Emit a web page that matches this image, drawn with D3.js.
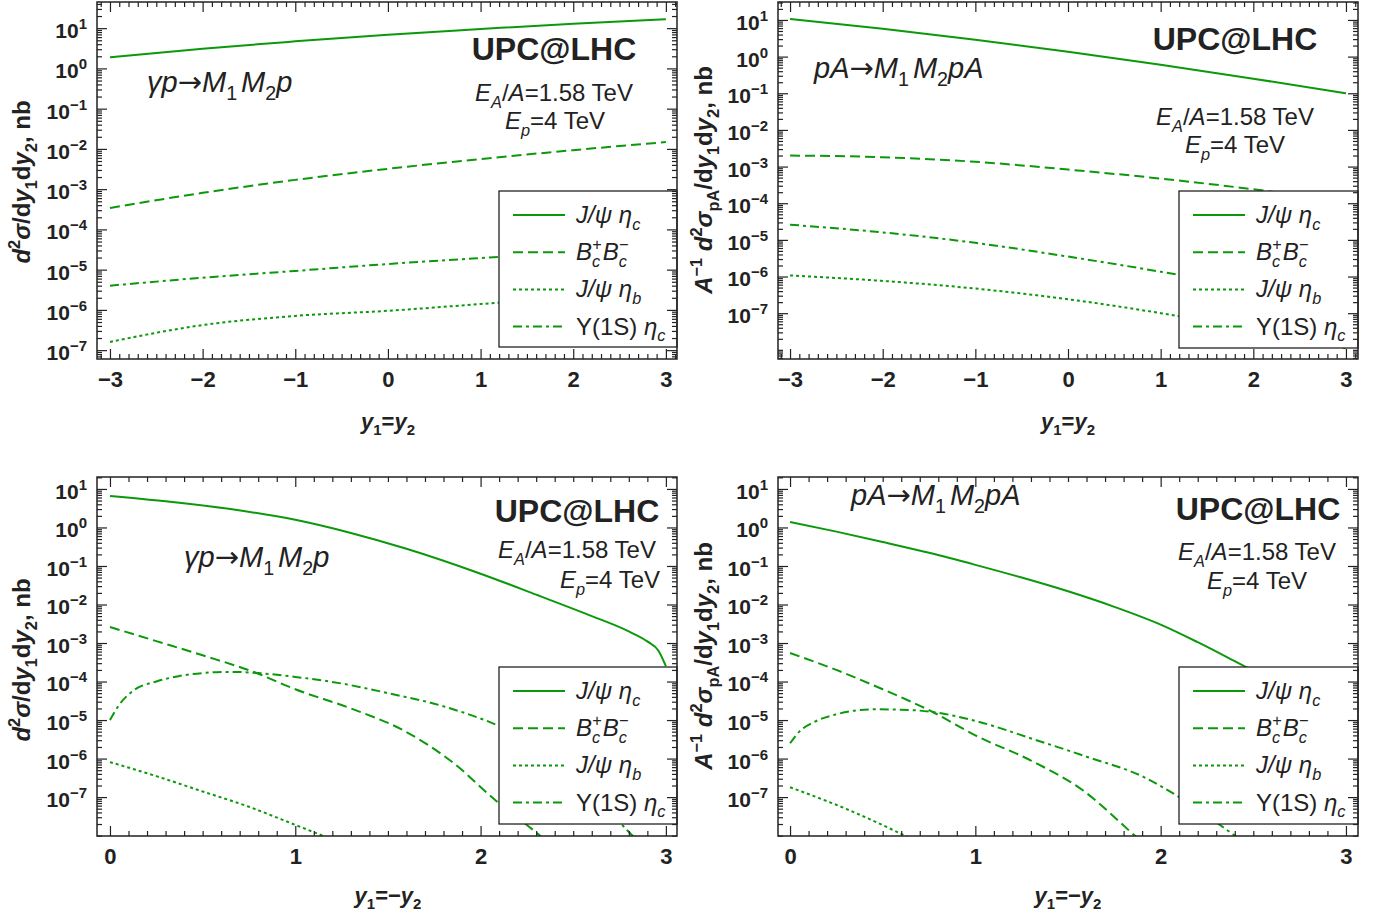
<!DOCTYPE html>
<html>
<head>
<meta charset="utf-8">
<script src="https://cdn.jsdelivr.net/npm/d3@7"></script>
<style>
  body { margin: 0; background: #fff; }
</style>
</head>
<body>
<script>
// ---- Data ----

// top row: y1 = y2
const yEq = [-3, -2, -1, 0, 1, 2, 3];
// gamma p -> M1 M2 p
const gpEq_JpsiEtac = [1.9, 3.1, 4.7, 6.9, 9.5, 12.9, 16.6];
const gpEq_BcBc     = [3.4e-4, 8.1e-4, 1.7e-3, 3.2e-3, 5.6e-3, 9.3e-3, 1.48e-2];
const gpEq_JpsiEtab = [1.6e-7, 4.2e-7, 7.1e-7, 9.5e-7, 1.4e-6, 2.1e-6, 3.0e-6];
const gpEq_UpsEtac  = [4.0e-6, 6.3e-6, 9.3e-6, 1.38e-5, 1.95e-5, 2.7e-5, 3.7e-5];
// p A -> M1 M2 p A
const pAEq_JpsiEtac = [10.7, 5.75, 2.88, 1.35, 0.60, 0.25, 0.10];
const pAEq_BcBc     = [2.0e-3, 1.8e-3, 1.35e-3, 8.3e-4, 4.7e-4, 2.4e-4, 1.1e-4];
const pAEq_JpsiEtab = [1.07e-6, 7.6e-7, 4.7e-7, 2.4e-7, 1.0e-7, 3.5e-8, 1.1e-8];
const pAEq_UpsEtac  = [2.6e-5, 1.6e-5, 8.3e-6, 3.5e-6, 1.35e-6, 4.7e-7, 1.4e-7];

// bottom row: y1 = -y2
const gpOpp_JpsiEtac_y = [0, 0.3, 0.65, 1.0, 1.3, 1.6, 2.0, 2.3, 2.6, 2.8, 2.9, 2.96, 3.0];
const gpOpp_JpsiEtac   = [6.6, 4.8, 3.0, 1.58, 0.72, 0.28, 0.063, 0.018, 5.0e-3, 2.0e-3, 1.1e-3, 6.3e-4, 2.5e-4];
const gpOpp_BcBc_y     = [0, 0.25, 0.5, 0.78, 1.0, 1.3, 1.58, 1.85, 2.08, 2.32, 2.5];
const gpOpp_BcBc       = [2.6e-3, 1.12e-3, 4.8e-4, 1.74e-4, 6.3e-5, 2.0e-5, 5.5e-6, 7.9e-7, 8.3e-8, 1.0e-8, 1.6e-9];
const gpOpp_JpsiEtab_y = [0, 0.25, 0.5, 0.75, 1.0, 1.2];
const gpOpp_JpsiEtab   = [8.1e-7, 3.5e-7, 1.4e-7, 5.6e-8, 1.9e-8, 7.9e-9];
const gpOpp_UpsEtac_y  = [0, 0.05, 0.13, 0.25, 0.37, 0.5, 0.65, 0.8, 1.0, 1.25, 1.5, 1.81, 2.18, 2.5, 2.79, 2.95];
const gpOpp_UpsEtac    = [1.0e-5, 2.5e-5, 6.0e-5, 1.0e-4, 1.38e-4, 1.66e-4, 1.78e-4, 1.66e-4, 1.32e-4, 8.9e-5, 5.0e-5, 2.2e-5, 4.6e-6, 5.0e-7, 1.4e-8, 2.5e-9];

const pAOpp_JpsiEtac_y = [0, 0.25, 0.5, 0.75, 1.0, 1.25, 1.5, 1.75, 2.0, 2.2, 2.42, 3.0];
const pAOpp_JpsiEtac   = [1.38, 0.78, 0.42, 0.22, 0.107, 0.05, 0.022, 8.7e-3, 3.0e-3, 1.05e-3, 3.0e-4, 1.0e-5];
const pAOpp_BcBc_y     = [0, 0.25, 0.5, 0.77, 1.0, 1.3, 1.58, 1.86, 2.0];
const pAOpp_BcBc       = [5.5e-4, 2.0e-4, 6.3e-5, 1.62e-5, 4.0e-6, 8.9e-7, 1.5e-7, 1.0e-8, 2.5e-9];
const pAOpp_JpsiEtab_y = [0, 0.3, 0.62, 0.75];
const pAOpp_JpsiEtab   = [1.8e-7, 5.0e-8, 1.0e-8, 5.0e-9];
const pAOpp_UpsEtac_y  = [0, 0.05, 0.13, 0.25, 0.45, 0.6, 0.77, 1.0, 1.33, 1.6, 1.91, 2.1, 2.4, 2.6];
const pAOpp_UpsEtac    = [2.5e-6, 5.0e-6, 8.9e-6, 1.41e-5, 1.9e-5, 1.86e-5, 1.62e-5, 9.5e-6, 3.0e-6, 1.12e-6, 3.3e-7, 1.0e-7, 1.0e-8, 2.0e-9];

const xTicksEq = [-3, -2, -1, 0, 1, 2, 3];
const xTicksOpp = [0, 1, 2, 3];
const yTickLabels = [1e-7, 1e-6, 1e-5, 1e-4, 1e-3, 1e-2, 1e-1, 1e0, 1e1];

// ---- Styles ----
const GREEN = "#0b990b";
const INK = "#222";
const FONT = '"Liberation Sans", Arial, Helvetica, sans-serif';
const lineStyles = [
  {dash: null},          // J/psi eta_c
  {dash: "10,5"},        // Bc+ Bc-
  {dash: "3,3"},         // J/psi eta_b
  {dash: "9,4,3,4"}      // Upsilon(1S) eta_c
];

// rich text: parts are [string, {i, sub, sup, dx, f}]
function rich(t, parts, size) {
  let shift = 0;
  t.style("white-space", "pre");
  parts.forEach(([s, o = {}]) => {
    const small = o.sub || o.sup;
    const target = o.sub ? size * 0.28 : o.sup ? -size * 0.42 : 0;
    const ts = t.append("tspan").text(s)
      .attr("dy", target - shift)
      .attr("font-size", small ? size * 0.68 : size)
      .attr("font-style", o.i ? "italic" : "normal");
    if (o.dx) ts.attr("dx", o.dx);
    if (o.f) ts.attr("font-family", o.f);
    shift = target;
  });
  return t;
}

const legendLabels = [
  [["J/ψ", {i: 1}], [" "], ["η", {i: 1}], ["c", {sub: 1, i: 1}]],
  [["B", {i: 1}], ["c", {sub: 1, i: 1}], ["+", {sup: 1, dx: -8}], ["B", {i: 1, dx: 1}], ["c", {sub: 1, i: 1}], ["−", {sup: 1, dx: -8}]],
  [["J/ψ", {i: 1}], [" "], ["η", {i: 1}], ["b", {sub: 1, i: 1}]],
  [["Y(1S) "], ["η", {i: 1}], ["c", {sub: 1, i: 1}]]
];

const ARROW_FONT = '"DejaVu Sans", sans-serif';
const gpProc = [["γp", {i: 1}], ["→", {f: ARROW_FONT}], ["M", {i: 1}], ["1", {sub: 1}], ["M", {i: 1, dx: 4}], ["2", {sub: 1}], ["p", {i: 1}]];
const pAProc = [["pA", {i: 1}], ["→", {f: ARROW_FONT}], ["M", {i: 1}], ["1", {sub: 1}], ["M", {i: 1, dx: 4}], ["2", {sub: 1}], ["pA", {i: 1}]];
const eaText = [["E", {i: 1}], ["A", {sub: 1, i: 1}], ["/"], ["A", {i: 1}], ["=1.58 TeV"]];
const epText = [["E", {i: 1}], ["p", {sub: 1, i: 1}], ["=4 TeV"]];
const yTitleGp = [["d", {i: 1}], ["2", {sup: 1}], ["σ", {i: 1}], ["/d"], ["y", {i: 1}], ["1", {sub: 1}], ["d"], ["y", {i: 1}], ["2", {sub: 1}], [", nb"]];
const yTitlePA = [["A", {i: 1}], ["−1", {sup: 1}], [" "], ["d", {i: 1}], ["2", {sup: 1}], ["σ", {i: 1}], ["pA", {sub: 1}], ["/d"], ["y", {i: 1}], ["1", {sub: 1}], ["d"], ["y", {i: 1}], ["2", {sub: 1}], [", nb"]];
const xTitleEq = [["y", {i: 1}], ["1", {sub: 1}], ["="], ["y", {i: 1}], ["2", {sub: 1}]];
const xTitleOpp = [["y", {i: 1}], ["1", {sub: 1}], ["=−"], ["y", {i: 1}], ["2", {sub: 1}]];

const panels = [
  {
    frame: [97, 2, 677, 359], xDom: [-3.14, 3.12], yDom: [10 ** -7.22, 10 ** 1.65], xTicks: xTicksEq,
    curves: [
      {x: yEq, v: gpEq_JpsiEtac}, {x: yEq, v: gpEq_BcBc}, {x: yEq, v: gpEq_JpsiEtab}, {x: yEq, v: gpEq_UpsEtac}
    ],
    legend: [499, 191, 677, 347],
    proc: {parts: gpProc, x: 147, y: 92},
    upc: [554, 60], ea: [554, 101], ep: [555, 129],
    yTitle: {parts: yTitleGp, x: 30, y: 182},
    xTitle: {parts: xTitleEq, x: 388, y: 429}
  },
  {
    frame: [778, 2, 1358, 359], xDom: [-3.13, 3.13], yDom: [10 ** -8.25, 10 ** 1.49], xTicks: xTicksEq,
    curves: [
      {x: yEq, v: pAEq_JpsiEtac}, {x: yEq, v: pAEq_BcBc}, {x: yEq, v: pAEq_JpsiEtab}, {x: yEq, v: pAEq_UpsEtac}
    ],
    legend: [1179, 191, 1358, 348],
    proc: {parts: pAProc, x: 814, y: 78},
    upc: [1235, 50], ea: [1235, 125], ep: [1235, 153],
    yTitle: {parts: yTitlePA, x: 712, y: 180},
    xTitle: {parts: xTitleEq, x: 1068, y: 429}
  },
  {
    frame: [97, 477, 677, 836], xDom: [-0.07, 3.06], yDom: [10 ** -8.01, 10 ** 1.31], xTicks: xTicksOpp,
    curves: [
      {x: gpOpp_JpsiEtac_y, v: gpOpp_JpsiEtac}, {x: gpOpp_BcBc_y, v: gpOpp_BcBc},
      {x: gpOpp_JpsiEtab_y, v: gpOpp_JpsiEtab}, {x: gpOpp_UpsEtac_y, v: gpOpp_UpsEtac}
    ],
    legend: [499, 667, 677, 824],
    proc: {parts: gpProc, x: 184, y: 567},
    upc: [577, 522], ea: [577, 558], ep: [610, 588],
    yTitle: {parts: yTitleGp, x: 30, y: 660},
    xTitle: {parts: xTitleOpp, x: 388, y: 903}
  },
  {
    frame: [778, 477, 1358, 836], xDom: [-0.065, 3.065], yDom: [10 ** -8.01, 10 ** 1.31], xTicks: xTicksOpp,
    curves: [
      {x: pAOpp_JpsiEtac_y, v: pAOpp_JpsiEtac}, {x: pAOpp_BcBc_y, v: pAOpp_BcBc},
      {x: pAOpp_JpsiEtab_y, v: pAOpp_JpsiEtab}, {x: pAOpp_UpsEtac_y, v: pAOpp_UpsEtac}
    ],
    legend: [1179, 667, 1358, 824],
    proc: {parts: pAProc, x: 851, y: 505},
    upc: [1258, 520], ea: [1257, 560], ep: [1257, 589],
    yTitle: {parts: yTitlePA, x: 712, y: 656},
    xTitle: {parts: xTitleOpp, x: 1068, y: 903}
  }
];

const svg = d3.select("body").append("svg")
  .attr("width", 1380).attr("height", 918)
  .attr("font-family", FONT)
  .style("display", "block");

function xMinors(dom) {
  return d3.range(Math.ceil(dom[0] * 10), Math.floor(dom[1] * 10) + 1)
    .map(k => k / 10)
    .filter(v => Math.abs(v - Math.round(v)) > 1e-6);
}
function yMajors(dom) {
  return yTickLabels.filter(v => v >= dom[0] && v <= dom[1]);
}
function yMinors(dom) {
  const out = [];
  for (let e = Math.floor(Math.log10(dom[0])); e <= Math.ceil(Math.log10(dom[1])); e++) {
    for (let m = 1; m <= 9; m++) {
      const v = m * Math.pow(10, e);
      if (m === 1 && yTickLabels.includes(v)) continue;
      if (v >= dom[0] && v <= dom[1]) out.push(v);
    }
  }
  return out;
}

panels.forEach((p, i) => {
  const [L, T, R, B] = p.frame;
  const x = d3.scaleLinear().domain(p.xDom).range([L, R]);
  const y = d3.scaleLog().domain(p.yDom).range([B, T]);

  // clipped curves
  svg.append("clipPath").attr("id", "clip" + i)
    .append("rect").attr("x", L).attr("y", T).attr("width", R - L).attr("height", B - T);
  const line = d3.line().x(d => x(d[0])).y(d => y(d[1])).curve(d3.curveMonotoneX);
  const gl = svg.append("g").attr("clip-path", `url(#clip${i})`);
  p.curves.forEach((c, j) => {
    gl.append("path")
      .datum(d3.zip(c.x, c.v))
      .attr("d", line)
      .attr("fill", "none")
      .attr("stroke", GREEN)
      .attr("stroke-width", 2)
      .attr("stroke-dasharray", lineStyles[j].dash);
  });

  // legend
  const [lx0, ly0, lx1, ly1] = p.legend;
  const lg = svg.append("g").attr("transform", `translate(${lx0},${ly0})`);
  lg.append("rect").attr("width", lx1 - lx0).attr("height", ly1 - ly0)
    .attr("fill", "#fff").attr("stroke", INK).attr("stroke-width", 1.3);
  legendLabels.forEach((parts, j) => {
    const yy = 24 + j * 37.2;
    lg.append("line").attr("x1", 14).attr("x2", 66).attr("y1", yy).attr("y2", yy)
      .attr("stroke", GREEN).attr("stroke-width", 2)
      .attr("stroke-dasharray", lineStyles[j].dash);
    rich(lg.append("text").attr("x", 77).attr("y", yy + 8).attr("font-size", 24).attr("fill", INK), parts, 24);
  });

  // frame
  svg.append("rect").attr("x", L).attr("y", T).attr("width", R - L).attr("height", B - T)
    .attr("fill", "none").attr("stroke", INK).attr("stroke-width", 1.5);

  // ticks on all four sides
  const ax = svg.append("g").attr("color", INK);
  function addAxis(axis, tr, vals, size, pad, fmt, fs) {
    const g = ax.append("g").attr("transform", tr)
      .call(axis.tickValues(vals).tickSize(-size).tickPadding(pad).tickFormat(fmt || (() => "")));
    g.select(".domain").remove();
    g.selectAll(".tick line").attr("stroke-width", 1.2);
    g.attr("font-family", FONT).attr("font-size", fs || 21).attr("font-weight", "bold").attr("fill", INK);
    return g;
  }
  const xfmt = d => d < 0 ? "−" + (-d) : String(d);
  addAxis(d3.axisBottom(x), `translate(0,${B})`, p.xTicks, 10, 12, xfmt, 22);
  addAxis(d3.axisBottom(x), `translate(0,${B})`, xMinors(p.xDom), 5, 0);
  addAxis(d3.axisTop(x), `translate(0,${T})`, p.xTicks, 10, 0);
  addAxis(d3.axisTop(x), `translate(0,${T})`, xMinors(p.xDom), 5, 0);

  const gy = addAxis(d3.axisLeft(y), `translate(${L},0)`, yMajors(p.yDom), 10, 10, d => "x");
  gy.selectAll(".tick text").each(function (d) {
    const e = Math.round(Math.log10(d));
    const t = d3.select(this).text(null).attr("dy", "0.45em");
    t.append("tspan").text("10");
    t.append("tspan").attr("dy", -9).attr("font-size", 15).text(e < 0 ? "−" + (-e) : String(e));
  });
  addAxis(d3.axisLeft(y), `translate(${L},0)`, yMinors(p.yDom), 5, 0);
  addAxis(d3.axisRight(y), `translate(${R},0)`, yMajors(p.yDom), 10, 0);
  addAxis(d3.axisRight(y), `translate(${R},0)`, yMinors(p.yDom), 5, 0);

  // annotations
  rich(svg.append("text").attr("x", p.proc.x).attr("y", p.proc.y).attr("font-size", 29).attr("fill", INK), p.proc.parts, 29);
  svg.append("text").attr("x", p.upc[0]).attr("y", p.upc[1]).attr("text-anchor", "middle")
    .attr("font-size", 32).attr("font-weight", "bold").attr("fill", INK).text("UPC@LHC");
  rich(svg.append("text").attr("x", p.ea[0]).attr("y", p.ea[1]).attr("text-anchor", "middle").attr("font-size", 24).attr("fill", INK), eaText, 24);
  rich(svg.append("text").attr("x", p.ep[0]).attr("y", p.ep[1]).attr("text-anchor", "middle").attr("font-size", 24).attr("fill", INK), epText, 24);

  // axis titles
  rich(svg.append("text")
    .attr("transform", `translate(${p.yTitle.x},${p.yTitle.y}) rotate(-90)`)
    .attr("text-anchor", "middle").attr("font-size", 24).attr("font-weight", "bold").attr("fill", INK),
    p.yTitle.parts, 24);
  rich(svg.append("text").attr("x", p.xTitle.x).attr("y", p.xTitle.y)
    .attr("text-anchor", "middle").attr("font-size", 22).attr("font-weight", "bold").attr("fill", INK),
    p.xTitle.parts, 22);
});
</script>
</body>
</html>
